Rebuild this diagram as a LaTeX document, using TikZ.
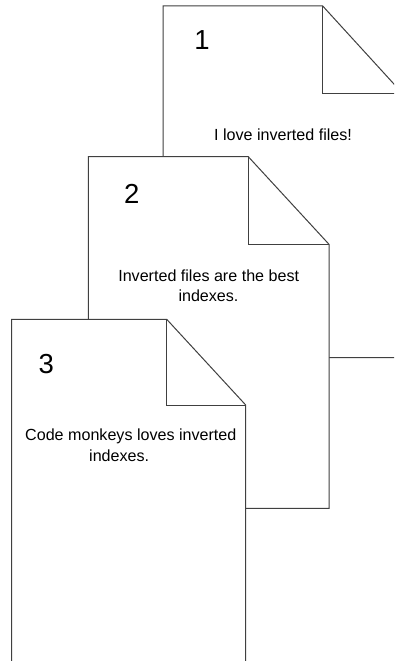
\documentclass[tikz,border=0pt]{standalone}
\usepackage{fontspec}
\setmainfont{Liberation Sans}
\definecolor{linegray}{RGB}{64,64,64}
\tikzset{
  pagebox/.style={draw=linegray, fill=white, line width=1pt, line join=miter},
  foldline/.style={draw=linegray, line width=1pt, line join=miter},
  numtext/.style={inner sep=0pt, anchor=base, font=\fontsize{27.5}{30}\selectfont},
  bodytext/.style={inner sep=0pt, anchor=base, font=\fontsize{16.1}{20}\selectfont}
}
\begin{document}
\begin{tikzpicture}[x=1pt,y=-1pt]
\useasboundingbox (0,0) rectangle (394,661);
\clip (0,0) rectangle (394,661);
\fill[white] (0,0) rectangle (394,661);
% page 1
\path[pagebox] (163,6) -- (322.7,6) -- (402.7,93.6) -- (402.7,357.7) -- (163,357.7) -- cycle;
\path[foldline] (322.7,6) -- (322.7,93.6) -- (402.7,93.6);
\node[numtext] (n1) at (202,49.3) {1};
\node[bodytext] (t1) at (283,140) {I love inverted files!};
% page 2
\path[pagebox] (88.3,156.7) -- (248.3,156.7) -- (329,244.3) -- (329,508.3) -- (88.3,508.3) -- cycle;
\path[foldline] (248.3,156.7) -- (248.3,244.3) -- (329,244.3);
\node[numtext] (n2) at (131.7,203.3) {2};
\node[bodytext] (t2a) at (208.7,281) {Inverted files are the best};
\node[bodytext] (t2b) at (208.5,301.7) {indexes.};
% page 3
\path[pagebox] (11.7,319.3) -- (166.7,319.3) -- (245.7,405) -- (245.7,671) -- (11.7,671) -- cycle;
\path[foldline] (166.7,319.3) -- (166.7,405) -- (245.7,405);
\node[numtext] (n3) at (46.3,373.3) {3};
\node[bodytext] (t3a) at (130.8,440.7) {Code monkeys loves inverted};
\node[bodytext] (t3b) at (119.2,461.3) {indexes.};
\end{tikzpicture}
\end{document}
